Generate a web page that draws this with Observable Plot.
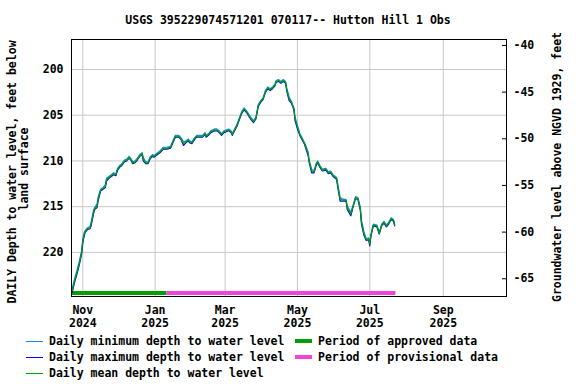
<!DOCTYPE html>
<html><head><meta charset="utf-8">
<script src="https://cdn.jsdelivr.net/npm/d3@7"></script>
<script src="https://cdn.jsdelivr.net/npm/@observablehq/plot@0.6"></script>
<style>
body{margin:0;background:#fff}
#wrap{position:relative;width:576px;height:384px;font-family:"DejaVu Sans Mono",monospace;font-weight:bold;font-size:11.5px;color:#000;overflow:hidden}
#title{position:absolute;left:0;width:576px;top:13px;line-height:14px;text-align:center;white-space:pre}
#chart{position:absolute;left:0;top:0}
.leg{position:absolute;line-height:16px;white-space:pre}
.sw{position:absolute;width:17px}
</style></head><body>
<div id="wrap"><div id="chart"></div><div id="title"></div><div id="legend"></div></div>
<script>
const titleText = "USGS 395229074571201 070117-- Hutton Hill 1 Obs";
const leftLabel = ["DAILY Depth to water level, feet below", "land surface"];
const rightLabel = "Groundwater level above NGVD 1929, feet";

const dates = [
"2024-10-23","2024-10-25","2024-10-27","2024-10-29","2024-10-31","2024-11-01","2024-11-02","2024-11-03","2024-11-05","2024-11-07",
"2024-11-08","2024-11-10","2024-11-11","2024-11-13","2024-11-14","2024-11-16","2024-11-18","2024-11-20","2024-11-21","2024-11-23",
"2024-11-25","2024-11-27","2024-11-29","2024-11-30","2024-12-02","2024-12-04","2024-12-06","2024-12-08","2024-12-10","2024-12-12",
"2024-12-13","2024-12-15","2024-12-17","2024-12-19","2024-12-21","2024-12-22","2024-12-24","2024-12-26","2024-12-28","2024-12-30",
"2024-12-31","2025-01-03","2025-01-05","2025-01-08","2025-01-11","2025-01-14","2025-01-16","2025-01-18","2025-01-21","2025-01-23",
"2025-01-25","2025-01-27","2025-01-29","2025-01-30","2025-02-01","2025-02-03","2025-02-05","2025-02-08","2025-02-10","2025-02-12",
"2025-02-13","2025-02-15","2025-02-17","2025-02-20","2025-02-22","2025-02-24","2025-02-26","2025-02-28","2025-03-02","2025-03-04",
"2025-03-06","2025-03-07","2025-03-09","2025-03-11","2025-03-13","2025-03-15","2025-03-17","2025-03-19","2025-03-21","2025-03-23",
"2025-03-25","2025-03-27","2025-03-29","2025-03-31","2025-04-02","2025-04-04","2025-04-06","2025-04-08","2025-04-10","2025-04-12",
"2025-04-13","2025-04-15","2025-04-17","2025-04-19","2025-04-21","2025-04-22","2025-04-24","2025-04-26","2025-04-28","2025-04-29",
"2025-05-01","2025-05-03","2025-05-05","2025-05-07","2025-05-10","2025-05-11","2025-05-13","2025-05-15","2025-05-17","2025-05-18",
"2025-05-20","2025-05-22","2025-05-25","2025-05-27","2025-05-29","2025-05-31","2025-06-03","2025-06-04","2025-06-06","2025-06-09",
"2025-06-11","2025-06-12","2025-06-15","2025-06-17","2025-06-19","2025-06-21","2025-06-23","2025-06-24","2025-06-26","2025-06-28",
"2025-06-30","2025-07-01","2025-07-02","2025-07-04","2025-07-07","2025-07-09","2025-07-11","2025-07-13","2025-07-15","2025-07-17",
"2025-07-19","2025-07-21","2025-07-22"
];

const meanDepth = [
224.2,223.1,222.2,221.2,220.0,218.7,218.1,217.7,217.4,217.3,
216.9,215.6,215.2,214.9,214.1,213.2,213.0,212.8,212.0,211.8,
211.6,211.4,211.5,211.0,210.6,210.4,210.0,209.9,209.6,209.9,
210.2,210.1,209.8,209.4,209.2,209.8,210.2,210.2,209.6,209.4,
209.5,209.2,209.0,208.6,208.6,208.5,207.9,207.3,207.3,207.6,
208.1,207.9,207.7,207.9,208.0,207.6,207.3,207.3,207.3,207.0,
207.3,207.1,206.8,206.6,206.6,206.8,207.1,206.8,206.7,206.6,
206.8,207.1,206.6,206.1,205.4,204.7,204.3,204.6,205.0,205.4,
205.7,205.3,203.9,203.5,203.2,202.4,202.0,202.2,202.0,201.7,
201.3,201.2,201.4,201.2,201.4,202.2,203.2,203.6,204.3,205.4,
206.3,207.1,207.6,208.1,209.2,210.1,211.1,211.2,210.3,210.1,
210.6,211.0,210.9,211.3,211.2,211.6,211.9,212.7,214.2,214.3,
214.3,215.1,215.8,214.9,214.0,214.1,215.2,216.7,217.9,218.6,
218.5,219.1,218.1,217.0,217.1,217.9,217.0,216.7,217.1,216.8,
216.3,216.5,217.0
];

const minDepth = [
224.0,222.9,222.0,221.0,219.8,218.5,217.9,217.6,217.3,217.2,
216.7,215.4,215.1,214.7,213.9,213.1,212.9,212.6,211.9,211.7,
211.5,211.3,211.4,210.9,210.5,210.3,209.9,209.8,209.5,209.8,
210.1,210.0,209.7,209.3,209.1,209.6,210.1,210.1,209.5,209.3,
209.4,209.1,208.9,208.5,208.5,208.4,207.8,207.2,207.2,207.5,
207.9,207.8,207.6,207.8,207.9,207.5,207.2,207.2,207.2,206.9,
207.2,207.0,206.7,206.5,206.5,206.7,207.0,206.7,206.6,206.5,
206.7,207.0,206.5,206.0,205.3,204.6,204.2,204.5,204.9,205.3,
205.6,205.2,203.8,203.4,203.1,202.3,201.9,202.1,201.9,201.6,
201.2,201.1,201.3,201.1,201.3,202.0,203.0,203.5,204.2,205.2,
206.1,207.0,207.5,208.0,209.0,210.0,210.9,211.1,210.2,210.0,
210.5,210.9,210.8,211.2,211.1,211.5,211.8,212.5,214.0,214.2,
214.2,214.9,215.6,214.8,213.9,214.0,215.0,216.5,217.7,218.5,
218.4,218.9,218.0,216.9,217.0,217.8,216.9,216.6,217.0,216.7,
216.2,216.4,216.9
];

const maxDepth = [
224.4,223.3,222.4,221.4,220.2,218.9,218.3,217.8,217.5,217.4,
217.1,215.8,215.3,215.1,214.3,213.3,213.1,212.9,212.2,211.9,
211.7,211.5,211.6,211.1,210.7,210.5,210.1,210.0,209.7,210.0,
210.3,210.2,209.9,209.5,209.3,210.0,210.3,210.3,209.7,209.5,
209.6,209.3,209.1,208.7,208.7,208.6,208.0,207.4,207.4,207.7,
208.3,208.0,207.8,208.0,208.1,207.7,207.4,207.4,207.4,207.1,
207.4,207.2,206.9,206.7,206.7,206.9,207.2,206.9,206.8,206.7,
206.9,207.2,206.7,206.2,205.5,204.8,204.4,204.7,205.1,205.5,
205.8,205.4,204.0,203.6,203.3,202.5,202.1,202.3,202.1,201.8,
201.4,201.3,201.5,201.3,201.5,202.4,203.4,203.7,204.4,205.6,
206.5,207.2,207.7,208.2,209.4,210.2,211.3,211.3,210.4,210.2,
210.7,211.1,211.0,211.4,211.3,211.7,212.0,212.9,214.4,214.4,
214.4,215.3,216.0,215.0,214.1,214.2,215.4,216.9,218.1,218.7,
218.6,219.3,218.2,217.1,217.2,218.0,217.1,216.8,217.2,216.9,
216.4,216.6,217.1
];

const xTickDates = ["2024-11-01","2025-01-01","2025-03-01","2025-05-01","2025-07-01","2025-09-01"];
const depthTicks = [200, 205, 210, 215, 220];
const rightTicks = [-40, -45, -50, -55, -60, -65];
const xRange = ["2024-10-22T11:00", "2025-10-24T07:00"];
const depthRange = [196.72, 224.82];
const approvedPeriod = ["2024-10-22T11:00", "2025-01-11"];
const provisionalPeriod = ["2025-01-11", "2025-07-23"];
// right-axis calibration: elevation -40 and -65 sit at these depths
const rightCal = {elev: [-40, -65], depth: [197.37, 222.88]};

const legendLabels = [
  "Daily minimum depth to water level",
  "Daily maximum depth to water level",
  "Daily mean depth to water level",
  "Period of approved data",
  "Period of provisional data"
];
const colors = {min: "#1c8ce8", max: "#0000ff", mean: "#00a000", approved: "#009e00", provisional: "#f244dc"};

const parse = s => s.length > 10 ? d3.utcParse("%Y-%m-%dT%H:%M")(s) : d3.utcParse("%Y-%m-%d")(s);
const rows = dates.map((d, i) => ({date: parse(d), min: minDepth[i], max: maxDepth[i], mean: meanDepth[i]}));
const xTicks = xTickDates.map(parse);
const xDomain = xRange.map(parse);
const elevToDepth = d3.scaleLinear().domain(rightCal.elev).range(rightCal.depth);
const rightDepths = rightTicks.map(v => elevToDepth(v));
const fmtM = d3.utcFormat("%b"), fmtY = d3.utcFormat("%Y");

const plot = Plot.plot({
  width: 576, height: 334,
  marginTop: 39, marginBottom: 38, marginLeft: 71, marginRight: 70,
  style: {fontFamily: "DejaVu Sans Mono, monospace", fontWeight: "bold", fontSize: "11.5px", background: "transparent", color: "black", overflow: "visible"},
  x: {type: "utc", domain: xDomain},
  y: {domain: depthRange, reverse: true},
  marks: [
    Plot.gridX(xTicks, {stroke: "#c8c8c8", strokeOpacity: 1, strokeWidth: 1}),
    Plot.gridY(depthTicks, {stroke: "#c8c8c8", strokeOpacity: 1, strokeWidth: 1}),
    Plot.rect([approvedPeriod], {x1: d => parse(d[0]), x2: d => parse(d[1]), fill: colors.approved, insetTop: 252, insetBottom: 1}),
    Plot.rect([provisionalPeriod], {x1: d => parse(d[0]), x2: d => parse(d[1]), fill: colors.provisional, insetTop: 252, insetBottom: 1}),
    Plot.line(rows, {x: "date", y: "min", stroke: colors.min, strokeWidth: 1.2}),
    Plot.line(rows, {x: "date", y: "max", stroke: colors.max, strokeWidth: 1.2}),
    Plot.line(rows, {x: "date", y: "mean", stroke: colors.mean, strokeWidth: 1.2}),
    Plot.frame({stroke: "black", strokeWidth: 1}),
    Plot.axisX(xTicks, {tickSize: 0, tickPadding: 8, lineHeight: 1.13, tickFormat: d => fmtM(d) + "\n" + fmtY(d), label: null}),
    Plot.axisY(depthTicks, {anchor: "left", tickSize: 0, tickPadding: 8, label: null}),
    Plot.axisY(rightDepths, {anchor: "right", tickSize: 0, tickPadding: 7, tickFormat: d => String(Math.round(elevToDepth.invert(d))), label: null}),
    Plot.ruleY(rightDepths, {x1: xDomain[1] - 3.4 * 864e5, x2: xDomain[1], stroke: "black"}),
    Plot.text([leftLabel[0]], {frameAnchor: "left", textAnchor: "middle", lineAnchor: "middle", rotate: -90, dx: -59, dy: 4}),
    Plot.text([leftLabel[1]], {frameAnchor: "left", textAnchor: "middle", lineAnchor: "middle", rotate: -90, dx: -47, dy: 1}),
    Plot.text([rightLabel], {frameAnchor: "right", textAnchor: "middle", lineAnchor: "middle", rotate: -90, dx: 51, dy: -1})
  ]
});
document.getElementById("chart").appendChild(plot);
document.getElementById("title").textContent = titleText;

// legend
const legend = document.getElementById("legend");
const items = [
  {label: legendLabels[0], color: colors.min, thick: 1, col: 0, row: 0},
  {label: legendLabels[1], color: colors.max, thick: 1, col: 0, row: 1},
  {label: legendLabels[2], color: colors.mean, thick: 1, col: 0, row: 2},
  {label: legendLabels[3], color: colors.approved, thick: 4, col: 1, row: 0},
  {label: legendLabels[4], color: colors.provisional, thick: 4, col: 1, row: 1}
];
const colX = [26, 295], rowY = [341, 357, 373];
for (const it of items) {
  const sw = document.createElement("div");
  sw.className = "sw";
  sw.style.left = colX[it.col] + "px";
  sw.style.top = Math.round(rowY[it.row] - it.thick / 2) + "px";
  sw.style.height = it.thick + "px";
  sw.style.background = it.color;
  legend.appendChild(sw);
  const t = document.createElement("div");
  t.className = "leg";
  t.style.left = (colX[it.col] + 23) + "px";
  t.style.top = (rowY[it.row] - 8) + "px";
  t.textContent = it.label;
  legend.appendChild(t);
}
</script>
</body></html>
